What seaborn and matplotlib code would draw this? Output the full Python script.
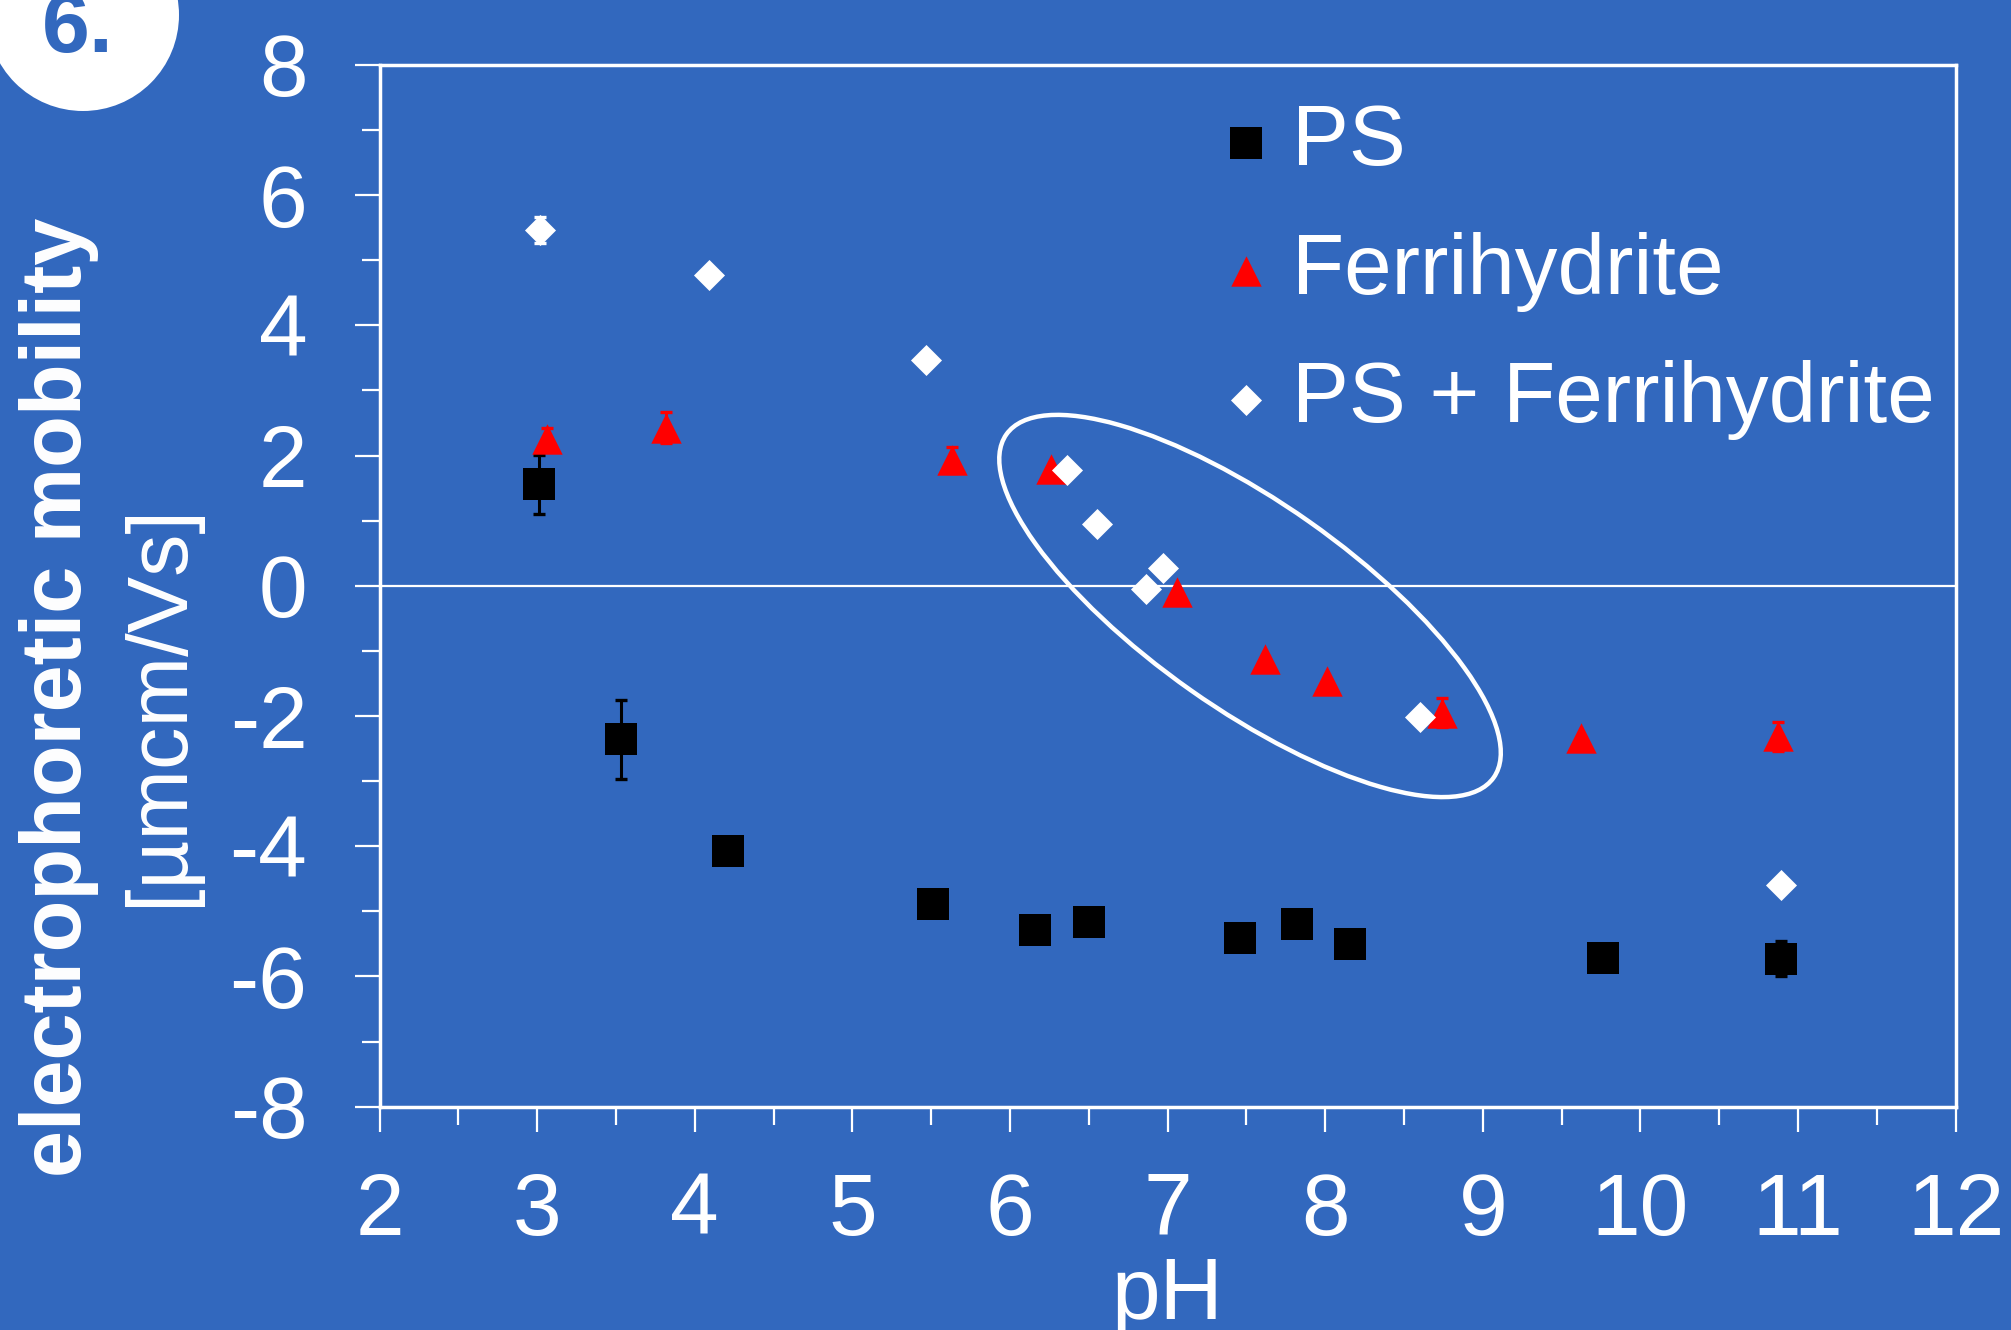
import numpy as np
import pandas as pd
import matplotlib
matplotlib.use("Agg")
import matplotlib.pyplot as plt
import matplotlib.transforms as mtransforms
from matplotlib.patches import Ellipse, Circle
from matplotlib.ticker import MultipleLocator
import seaborn as sns

# ---------------- data ----------------
ps_ph = [3.01, 3.53, 4.21, 5.51, 6.16, 6.50, 7.46, 7.82, 8.16, 9.76, 10.89]
ps_mob = [1.56, -2.36, -4.07, -4.88, -5.29, -5.17, -5.41, -5.20, -5.50, -5.72, -5.73]
ps_err = [0.45, 0.60, 0.0, 0.0, 0.0, 0.0, 0.0, 0.0, 0.0, 0.0, 0.27]

fh_ph = [3.06, 3.82, 5.63, 6.26, 7.06, 7.62, 8.01, 8.74, 9.62, 10.87]
fh_mob = [2.25, 2.43, 1.93, 1.79, -0.09, -1.12, -1.46, -1.95, -2.33, -2.31]
fh_err = [0.18, 0.24, 0.2, 0.0, 0.0, 0.0, 0.0, 0.22, 0.0, 0.22]

mix_ph = [3.02, 4.09, 5.47, 6.36, 6.55, 6.97, 6.86, 8.60, 10.89]
mix_mob = [5.46, 4.77, 3.47, 1.78, 0.95, 0.27, -0.05, -2.02, -4.60]
mix_err = [0.2, 0.0, 0.0, 0.0, 0.0, 0.0, 0.0, 0.0, 0.0]

series_labels = ["PS", "Ferrihydrite", "PS + Ferrihydrite"]
x_ticks = [2, 3, 4, 5, 6, 7, 8, 9, 10, 11, 12]
y_ticks = [-8, -6, -4, -2, 0, 2, 4, 6, 8]
x_label = "pH"
y_label = "electrophoretic mobility"
y_unit = "[µmcm/Vs]"
panel_label = "6."

# ---------------- style ----------------
BG = "#3268be"
sns.set_style("ticks")
plt.rcParams["font.family"] = ["Liberation Sans", "DejaVu Sans"]
plt.rcParams["axes.unicode_minus"] = False

W, H = 2011, 1330
fig = plt.figure(figsize=(W / 100, H / 100), dpi=100, facecolor=BG)
ax = fig.add_axes([379.6 / W, 1 - 1106.7 / H, 1576 / W, 1041.8 / H])
ax.set_facecolor(BG)

df_ps = pd.DataFrame({"pH": ps_ph, "mob": ps_mob, "err": ps_err})
df_fh = pd.DataFrame({"pH": fh_ph, "mob": fh_mob, "err": fh_err})
df_mix = pd.DataFrame({"pH": mix_ph, "mob": mix_mob, "err": mix_err})

# zero line
ax.axhline(0, color="white", lw=1.6, zorder=1)

# error bars (under markers)
for d, c in [(df_ps, "black"), (df_fh, "red"), (df_mix, "white")]:
    ax.errorbar(d["pH"], d["mob"], yerr=d["err"], fmt="none", ecolor=c,
                elinewidth=2.2, capsize=4.3, capthick=2.4, zorder=2)

sns.scatterplot(data=df_ps, x="pH", y="mob", marker="s", s=500, color="black",
                linewidth=0, ax=ax, label=series_labels[0], zorder=3)
sns.scatterplot(data=df_fh, x="pH", y="mob", marker="^", s=480, color="red",
                linewidth=0, ax=ax, label=series_labels[1], zorder=4)
sns.scatterplot(data=df_mix, x="pH", y="mob", marker="D", s=250, color="white",
                linewidth=0, ax=ax, label=series_labels[2], zorder=5)

# annotation ellipse (drawn in pixel units around a data-space centre)
ell = Ellipse((0, 0), width=596, height=206, angle=-35.15, fill=False,
              edgecolor="white", lw=3.2, zorder=6,
              transform=mtransforms.ScaledTranslation(7.523, -0.31, ax.transData))
ax.add_artist(ell)

# axes
ax.set_xlim(2, 12)
ax.set_ylim(-8, 8)
ax.set_xticks(x_ticks)
ax.set_yticks(y_ticks)
ax.set_xticklabels([str(t) for t in x_ticks])
ax.set_yticklabels([str(t) for t in y_ticks])
ax.xaxis.set_minor_locator(MultipleLocator(0.5))
ax.yaxis.set_minor_locator(MultipleLocator(1))
ax.tick_params(axis="both", which="major", length=18, width=1.6, color="white",
               labelsize=63, labelcolor="white", direction="out")
ax.tick_params(axis="both", which="minor", length=13, width=1.6, color="white",
               direction="out")
ax.tick_params(axis="x", which="major", pad=29)
ax.tick_params(axis="y", which="major", pad=34)
for sp in ax.spines.values():
    sp.set_visible(True)
    sp.set_color("white")
    sp.set_linewidth(2.5)

ax.set_xlabel(x_label, fontsize=63, color="white", labelpad=2.0)
ax.set_ylabel(y_label, fontsize=61, color="white", fontweight="bold",
              va="baseline", ha="center")
ax.yaxis.set_label_coords((81 - 379.6) / 1576, (1106.7 - 697) / 1041.8)
ax.text((182 - 379.6) / 1576, (1106.7 - 705) / 1041.8, y_unit, transform=ax.transAxes,
        rotation=90, rotation_mode="anchor", ha="center", va="baseline",
        fontsize=61, color="white")

# legend
leg = ax.legend(loc="upper left", bbox_to_anchor=(1220 / W, 1 - 103 / H),
                bbox_transform=fig.transFigure, frameon=False, fontsize=61.5,
                handlelength=0.62, handletextpad=0.22, labelspacing=0.57,
                borderpad=0, borderaxespad=0)
for t in leg.get_texts():
    t.set_color("white")

# panel badge
fig.add_artist(Circle((83, H - 15), 96, transform=None, facecolor="white",
                      edgecolor="none", zorder=10))
fig.text(42 / W, 1 - 52 / H, panel_label, fontsize=62, fontweight="bold",
         color=BG, ha="left", va="baseline", zorder=11)

fig.savefig("out.png", dpi=100, facecolor=BG)
